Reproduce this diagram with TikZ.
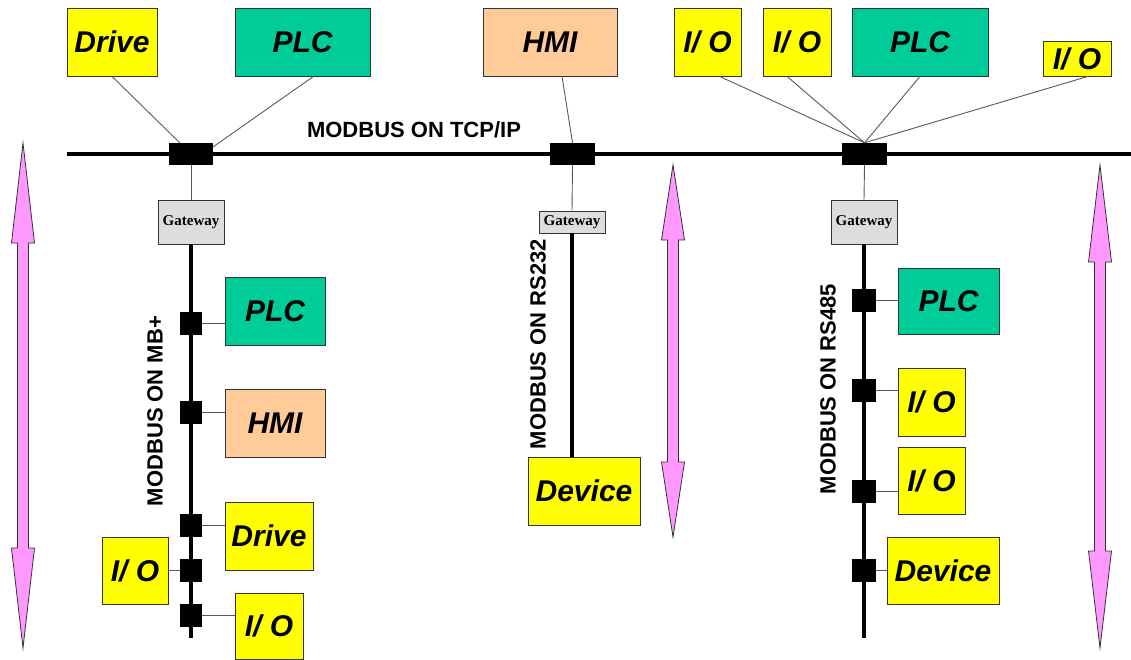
\documentclass[tikz,border=0pt]{standalone}
\usepackage{fontspec}
\setmainfont{Liberation Sans}
\newfontfamily\gwfont{Liberation Serif}
\usepackage{xcolor}
\usetikzlibrary{positioning}

\definecolor{ioyellow}{HTML}{FFFF00}
\definecolor{plcgreen}{HTML}{00CC99}
\definecolor{hmipeach}{HTML}{FFCC99}
\definecolor{gwgray}{HTML}{DDDDDD}
\definecolor{arrowpink}{HTML}{FF99FF}
\definecolor{edgegray}{HTML}{333333}

% double headed pink arrow: x, top, bottom, head length
\newcommand{\pinkarrow}[4]{%
  \filldraw[fill=arrowpink, draw=edgegray, line width=0.8pt]
    (#1,#2) -- ({#1+11.5},{#2+#4}) -- ({#1+5.5},{#2+#4}) -- ({#1+5.5},{#3-#4})
    -- ({#1+11.5},{#3-#4}) -- (#1,#3) -- ({#1-11.5},{#3-#4}) -- ({#1-5.5},{#3-#4})
    -- ({#1-5.5},{#2+#4}) -- ({#1-11.5},{#2+#4}) -- cycle;}

\begin{document}
\begin{tikzpicture}[x=1pt, y=-1pt]

    % Define style for boxes
    \tikzstyle{unit} = [rectangle, draw=edgegray, line width=0.8pt, inner sep=0pt, text centered, font=\fontsize{30}{36}\selectfont\bfseries\itshape]
    \tikzstyle{io} = [unit, fill=ioyellow]
    \tikzstyle{plc} = [unit, fill=plcgreen]
    \tikzstyle{hmi} = [unit, fill=hmipeach]
    \tikzstyle{gate} = [rectangle, draw=edgegray, line width=0.8pt, fill=gwgray, inner sep=0pt, minimum width=66pt, font=\gwfont\fontsize{15}{18}\selectfont\bfseries]
    \tikzstyle{tap} = [rectangle, fill=black, inner sep=0pt]
    \tikzstyle{busname} = [inner sep=0pt, font=\fontsize{22}{26}\selectfont\bfseries]
    \tikzstyle{bus} = [line width=4pt]
    \tikzstyle{drop} = [line width=0.9pt, draw=black!65]

    \useasboundingbox (0,0) rectangle (1131,659);

    % Pink arrows
    \pinkarrow{23}{143}{648}{100}
    \pinkarrow{673}{165}{537}{75}
    \pinkarrow{1100}{165}{648}{97}

    % Nodes on top
    \node (drivetop) [io, minimum width=90pt, minimum height=68pt] at (112,42) {Drive};
    \node (plctop) [plc, minimum width=135pt, minimum height=68pt] at (302.5,42) {PLC};
    \node (hmitop) [hmi, minimum width=134pt, minimum height=68pt] at (550,42) {HMI};
    \node (ioa) [io, minimum width=67pt, minimum height=68pt] at (707.5,42) {I/ O};
    \node (iob) [io, minimum width=68pt, minimum height=68pt] at (797,42) {I/ O};
    \node (plcright) [plc, minimum width=136pt, minimum height=68pt] at (920,42) {PLC};
    \node (iosmall) [io, minimum width=68pt, minimum height=35pt] at (1077,58.5) {I/ O};

    % TCP/IP bus
    \coordinate (busstart) at (67,154);
    \coordinate (busend) at (1131,154);
    \draw[bus] (busstart) -- (busend);
    \node (tcpname) [busname] at (414,130) {MODBUS ON TCP/IP};

    \node (tapl) [tap, minimum width=44pt, minimum height=22pt] at (191,154) {};
    \node (tapm) [tap, minimum width=45pt, minimum height=22pt] at (572.5,154) {};
    \node (tapr) [tap, minimum width=45pt, minimum height=22pt] at (864.5,154) {};

    \node (gwl) [gate, minimum height=44pt] at (191,222) {Gateway};
    \node (gwm) [gate, minimum height=22pt] at (572,222) {Gateway};
    \node (gwr) [gate, minimum height=44pt] at (864,222) {Gateway};

    % MB+ branch
    \coordinate (endl) at (191,638);
    \node (plcl) [plc, minimum width=100pt, minimum height=68pt] at (275,311.5) {PLC};
    \node (hmil) [hmi, minimum width=100pt, minimum height=68pt] at (275,423.5) {HMI};
    \node (drivel) [io, minimum width=88pt, minimum height=68pt] at (269,536) {Drive};
    \node (iol) [io, minimum width=66pt, minimum height=67pt] at (135,570.5) {I/ O};
    \node (iolow) [io, minimum width=68pt, minimum height=66pt] at (269,626) {I/ O};
    \node (mbname) [busname, rotate=90] at (155,411) {MODBUS ON MB+};

    % RS232 branch
    \node (devm) [io, minimum width=112pt, minimum height=68pt] at (584,491) {Device};
    \node (rs232name) [busname, rotate=90] at (538,344) {MODBUS ON RS232};

    % RS485 branch
    \coordinate (endr) at (864,638);
    \node (plcr) [plc, minimum width=101pt, minimum height=66pt] at (948.5,301) {PLC};
    \node (ior) [io, minimum width=67pt, minimum height=68pt] at (931.5,402) {I/ O};
    \node (iorlow) [io, minimum width=67pt, minimum height=67pt] at (931.5,480.5) {I/ O};
    \node (devr) [io, minimum width=112pt, minimum height=67pt] at (943,570.5) {Device};
    \node (rs485name) [busname, rotate=90] at (828,389) {MODBUS ON RS485};

    % Lines
    \draw[drop] (drivetop.south) -- ([xshift=11pt]tapl.north west);
    \draw[drop] ([xshift=11pt]plctop.south) -- ([yshift=-4pt]tapl.north east);
    \draw[drop] ([xshift=12pt]hmitop.south) -- (tapm.north);
    \draw[drop] ([xshift=12pt]ioa.south) -- (tapr.north);
    \draw[drop] ([xshift=-10pt]iob.south) -- (tapr.north);
    \draw[drop] (plcright.south) -- (tapr.north);
    \draw[drop] ([xshift=11pt]iosmall.south) -- (tapr.north);

    \draw[drop] (tapl.south) -- (gwl.north);
    \draw[drop] (tapm.south) -- (gwm.north);
    \draw[drop] (tapr.south) -- (gwr.north);

    \draw[bus] (gwl.south) -- (endl);
    \draw[bus] (gwm.south) -- (devm.north -| gwm.south);
    \draw[bus] (gwr.south) -- (endr);

    % taps on MB+
    \foreach \name/\ypos in {sqa/323, sqb/412, sqc/525, sqd/570, sqe/615}
        \node (\name) [tap, minimum width=22pt, minimum height=23pt] at (191,\ypos) {};
    \draw[drop] (sqa.east) -- (sqa.east -| plcl.west);
    \draw[drop] (sqb.east) -- (sqb.east -| hmil.west);
    \draw[drop] (sqc.east) -- (sqc.east -| drivel.west);
    \draw[drop] (sqd.west) -- (sqd.west -| iol.east);
    \draw[drop] (sqe.east) -- (sqe.east -| iolow.west);

    % taps on RS485
    \foreach \name/\ypos in {sra/300, srb/390, src/491, srd/570}
        \node (\name) [tap, minimum width=24pt, minimum height=23pt] at (864,\ypos) {};
    \draw[drop] (sra.east) -- (sra.east -| plcr.west);
    \draw[drop] (srb.east) -- (srb.east -| ior.west);
    \draw[drop] (src.east) -- (src.east -| iorlow.west);
    \draw[drop] (srd.east) -- (srd.east -| devr.west);

\end{tikzpicture}
\end{document}
